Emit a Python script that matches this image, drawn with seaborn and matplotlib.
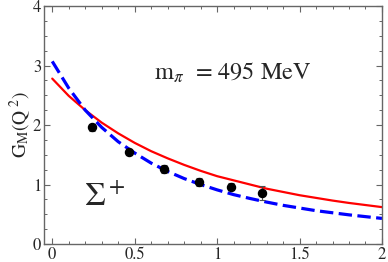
import numpy as np
import pandas as pd
import seaborn as sns
import matplotlib
matplotlib.use('Agg')
import matplotlib.pyplot as plt
from matplotlib.ticker import MultipleLocator

# curves
q2 = [0.0, 0.1, 0.2, 0.3, 0.4, 0.5, 0.6, 0.7, 0.8, 0.9, 1.0,
      1.1, 1.2, 1.3, 1.4, 1.5, 1.6, 1.7, 1.8, 1.9, 2.0]
gm_red = [2.78, 2.49, 2.25, 2.04, 1.86, 1.70, 1.56, 1.44, 1.33, 1.23, 1.14,
          1.07, 1.00, 0.93, 0.875, 0.82, 0.775, 0.73, 0.69, 0.655, 0.62]
gm_blue = [3.07, 2.62, 2.25, 1.96, 1.72, 1.53, 1.36, 1.22, 1.10, 1.00, 0.91,
           0.83, 0.765, 0.705, 0.65, 0.605, 0.56, 0.525, 0.49, 0.46, 0.43]

# lattice points
q2_pts = [0.24, 0.465, 0.68, 0.89, 1.085, 1.275]
gm_pts = [1.96, 1.54, 1.26, 1.04, 0.96, 0.86]
gm_err = [0.06, 0.04, 0.07, 0.07, 0.06, 0.12]

sns.set_style("ticks")
plt.rcParams['font.family'] = ['STIXGeneral', 'Liberation Serif', 'DejaVu Serif']
plt.rcParams['mathtext.fontset'] = 'stix'

df = pd.DataFrame({'q2': q2, 'red': gm_red, 'blue': gm_blue})

fig = plt.figure(figsize=(3.88, 2.62), dpi=100)
ax = fig.add_axes([0.1134, 0.0687, 0.8711, 0.9083])

sns.lineplot(data=df, x='q2', y='red', ax=ax, color='#ff0000', lw=1.6)
sns.lineplot(data=df, x='q2', y='blue', ax=ax, color='#0000ff', lw=2.3)
ax.lines[-1].set_dashes((4.2, 1.7))
ax.errorbar(q2_pts, gm_pts, yerr=gm_err, fmt='o', color='black', ms=5.8,
            ecolor='0.3', elinewidth=0.8, capsize=2, capthick=0.8)

ax.set_xlim(-0.05, 2.0)
ax.set_ylim(0, 4)
ax.xaxis.set_major_locator(MultipleLocator(0.5))
ax.xaxis.set_minor_locator(MultipleLocator(0.1))
ax.yaxis.set_major_locator(MultipleLocator(1))
ax.yaxis.set_minor_locator(MultipleLocator(0.25))
ax.xaxis.set_major_formatter(matplotlib.ticker.FuncFormatter(lambda v, p: '%g' % v))
ax.tick_params(which='both', direction='in', top=True, right=True,
               color='0.4', labelsize=12, pad=2)
ax.tick_params(which='major', length=4, width=0.8)
ax.tick_params(which='minor', length=2.2, width=0.7)
for s in ax.spines.values():
    s.set_color('0.4')
    s.set_linewidth(1.0)

ax.set_xlabel('')
ax.set_ylabel(r'G$_\mathrm{M}$(Q$^{\,\,2}$)', fontsize=14, labelpad=0)
ax.text(0.62, 2.88, r'm$_\pi$  = 495 MeV', fontsize=17.5, va='center')
ax.text(0.19, 0.52, r'$\Sigma^+$', fontsize=24, va='bottom')

fig.savefig('out.png', dpi=100)
